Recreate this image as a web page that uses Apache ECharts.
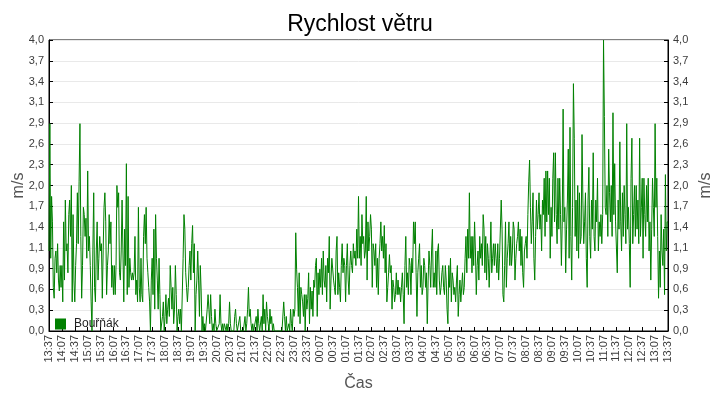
<!DOCTYPE html>
<html>
<head>
<meta charset="utf-8">
<script src="https://cdn.jsdelivr.net/npm/echarts@6/dist/echarts.min.js"></script>
<style>html,body{margin:0;padding:0;background:#fff}#c{width:720px;height:400px}</style>
</head>
<body>
<div id="c"></div>
<script>
// Time step between samples, minutes (start 13:37, end 13:37 next day)
var stepMinutes = 2;
var tickLabels = ["13:37","14:07","14:37","15:07","15:37","16:07","16:37","17:07","17:37","18:07","18:37","19:07","19:37","20:07","20:37","21:07","21:37","22:07","22:37","23:07","23:37","00:07","00:37","01:07","01:37","02:07","02:37","03:07","03:37","04:07","04:37","05:07","05:37","06:07","06:37","07:07","07:37","08:07","08:37","09:07","09:37","10:07","10:37","11:07","11:37","12:07","12:37","13:07","13:37"];
var seriesName = "Bouřňák";
var windSpeed = [
1.1,2.85,1.0,1.85,1.5,0.6,0.45,1.0,1.1,0.8,1.2,0.7,0.55,0.9,0.6,
0.9,0.4,1.5,0.7,1.8,1.1,1.2,0.8,1.6,1.8,1.3,2.0,0.4,1.6,0.7,
0.4,0.9,1.2,1.9,1.2,2.05,2.85,1.3,0.45,0.9,1.7,1.6,1.3,1.55,1.0,
2.2,1.1,1.3,0.9,0.4,0.0,1.1,1.9,0.6,0.4,1.1,1.5,0.7,1.0,1.3,
1.1,1.2,0.45,1.1,1.7,1.9,1.5,0.5,0.9,1.1,1.6,1.2,1.5,0.6,0.9,
0.5,0.9,0.5,0.9,2.0,1.7,1.9,0.8,0.7,1.1,1.8,1.1,0.4,1.4,0.9,
2.3,0.5,1.85,0.6,1.0,0.8,0.7,0.8,0.7,0.8,1.3,0.5,0.7,0.4,1.7,
0.6,0.4,1.0,0.5,0.4,1.3,1.6,1.2,1.7,1.0,0.8,0.6,0.4,0.0,0.7,
1.0,0.5,1.4,0.3,1.6,1.0,0.7,0.3,1.0,0.5,0.0,0.0,0.2,0.4,0.0,
0.2,0.5,0.1,0.3,0.45,0.2,0.9,0.6,0.3,0.6,0.1,0.3,0.9,0.5,0.0,
0.2,0.3,0.1,0.3,0.0,0.0,1.0,1.6,1.4,0.8,0.6,0.4,0.6,0.9,1.1,
0.7,1.2,1.45,0.8,1.2,0.0,0.5,0.7,1.1,0.7,0.2,0.9,0.55,0.0,0.2,
0.0,0.1,0.0,0.0,0.3,0.5,0.3,0.1,0.5,0.2,0.0,0.1,0.0,0.3,0.1,
0.0,0.0,0.0,0.1,0.5,0.1,0.0,0.1,0.0,0.1,0.1,0.0,0.1,0.0,0.1,
0.4,0.1,0.0,0.0,0.0,0.0,0.2,0.3,0.1,0.0,0.0,0.0,0.2,0.0,0.0,
0.0,0.0,0.0,0.2,0.0,0.1,0.3,0.6,0.2,0.3,0.1,0.0,0.1,0.0,0.0,
0.0,0.2,0.0,0.3,0.1,0.0,0.0,0.2,0.0,0.5,0.1,0.3,0.0,0.4,0.2,
0.1,0.0,0.3,0.1,0.2,0.0,0.1,0.0,0.0,0.0,0.0,0.0,0.0,0.0,0.0,
0.0,0.0,0.0,0.4,0.2,0.0,0.2,0.0,0.0,0.1,0.0,0.3,0.1,0.0,0.3,
0.2,0.3,1.35,0.85,0.6,0.2,0.8,0.1,0.6,0.5,0.4,0.2,0.5,0.0,0.5,
0.3,0.45,0.8,0.1,0.6,0.3,0.55,0.2,0.7,0.6,0.9,1.0,0.2,0.8,0.5,
0.85,0.6,1.0,0.5,1.1,0.7,0.6,0.9,0.4,1.0,0.8,1.3,0.3,0.7,1.0,
1.0,0.7,0.6,0.5,1.1,1.3,0.5,0.8,0.6,0.4,0.9,1.2,0.8,1.0,0.9,
0.4,0.9,1.2,0.7,0.5,0.9,1.1,0.9,0.8,1.2,1.0,1.1,0.9,1.4,1.0,
1.85,1.0,1.3,0.9,1.6,1.2,1.3,1.0,1.1,1.85,0.7,1.5,1.1,1.3,1.6,
1.4,0.6,1.2,1.1,0.9,1.2,0.6,1.0,0.5,1.0,1.2,1.5,1.1,1.3,1.0,
1.45,0.8,1.2,0.4,0.6,0.8,1.05,0.8,0.9,0.3,0.7,0.6,0.4,0.5,0.8,
0.5,0.7,0.5,0.6,0.4,0.6,0.8,0.5,0.1,0.9,1.3,0.6,0.8,0.5,1.0,
0.9,0.5,1.0,0.8,1.5,1.2,1.5,0.8,0.2,0.8,1.0,1.2,0.6,0.9,0.5,
0.6,1.0,0.9,0.6,0.8,0.1,0.7,1.1,0.9,0.6,1.1,1.4,0.6,0.8,0.6,
1.1,0.5,1.1,1.2,0.7,0.5,0.6,0.8,0.9,0.6,0.5,0.9,0.7,0.3,0.1,
0.9,0.6,1.0,0.4,0.8,0.7,0.5,0.6,0.4,0.7,0.9,0.2,0.5,0.7,0.4,
0.4,0.8,0.5,0.6,1.0,1.3,0.8,1.4,1.0,1.9,1.0,1.3,0.8,1.3,0.9,
1.5,1.1,0.5,0.9,1.1,0.7,1.3,1.0,1.2,0.9,1.6,1.4,0.8,1.3,0.7,
1.2,1.0,0.6,1.0,1.5,0.8,1.0,1.2,0.9,1.2,1.0,0.8,1.2,0.7,1.0,
1.0,1.8,1.4,0.5,0.4,0.9,1.5,0.6,1.0,1.2,1.5,0.9,1.3,0.9,1.1,
1.5,1.4,0.7,1.0,1.2,1.3,1.5,1.1,1.4,0.9,1.3,0.8,0.6,1.1,1.2,
1.3,1.0,1.6,2.05,2.35,1.7,1.2,1.5,1.9,1.0,0.7,1.3,1.8,1.4,1.6,
1.9,1.4,1.6,1.1,1.8,1.6,2.1,1.3,2.2,1.5,2.2,1.6,2.1,1.0,1.7,
1.3,2.1,2.45,1.5,2.45,1.6,1.2,2.1,1.4,2.1,1.6,0.9,1.5,3.05,1.5,
1.7,0.8,1.4,1.8,2.5,1.0,2.8,1.3,0.7,1.7,3.4,2.65,1.3,1.8,1.1,
2.0,1.0,1.9,1.2,1.3,2.7,1.8,1.2,1.5,1.9,1.0,0.6,1.8,2.25,1.3,
1.0,1.8,1.4,2.45,1.3,1.1,1.8,1.5,2.1,1.1,1.5,1.3,1.6,1.2,1.6,
4.0,2.95,1.7,1.6,2.0,1.3,2.5,1.9,1.5,2.0,1.3,3.0,1.6,2.3,1.5,
1.5,0.8,1.8,1.4,2.6,1.5,1.1,1.9,1.3,2.0,1.6,1.2,2.85,1.4,1.7,
1.2,0.6,2.1,2.65,1.2,1.6,2.0,1.3,2.0,1.4,1.8,1.2,2.65,1.3,1.7,
2.1,1.0,2.1,1.6,1.3,2.0,1.5,2.1,1.1,1.5,0.7,1.4,2.1,1.7,1.3,
2.85,1.7,2.1,1.3,0.45,1.1,0.6,1.6,1.1,0.9,1.4,0.5,2.15,1.1,1.5,
1.5
];

var chart = echarts.init(document.getElementById('c'), null, {renderer: 'canvas'});
var FONT = '"Liberation Sans", Arial, sans-serif';
var yInterval = 4 / 14;
function fmtY(v) { return (Math.round(v * 10) / 10).toFixed(1).replace('.', ','); }
function yAxisCfg(pos, gap) {
  return {
    type: 'value', position: pos, min: 0, max: 4, interval: yInterval,
    name: 'm/s', nameLocation: 'middle', nameGap: gap, nameRotate: 90, nameMoveOverlap: false,
    nameTextStyle: {fontSize: 16, color: '#555', fontFamily: FONT},
    axisLine: {show: true, lineStyle: {color: '#000', width: 1}},
    axisTick: {show: true, inside: true, length: 4, lineStyle: {color: '#000'}},
    axisLabel: {fontSize: 11, color: '#3c3c3c', fontFamily: FONT, margin: 5, formatter: fmtY},
    splitLine: {show: pos === 'left', lineStyle: {color: '#e9e9e9', width: 1}}
  };
}
var option = {
  animation: false,
  backgroundColor: '#fff',
  title: {
    text: 'Rychlost větru', left: 'center', top: 8,
    textStyle: {fontSize: 23, fontWeight: 'normal', color: '#000', fontFamily: FONT}
  },
  grid: {left: 49, right: 52, top: 40, bottom: 69, containLabel: false, outerBoundsMode: 'none',
    show: true, borderColor: '#000', borderWidth: 1, backgroundColor: 'transparent'},
  legend: {
    data: [seriesName], left: 50, top: 313, icon: 'rect', itemWidth: 11, itemHeight: 11,
    textStyle: {fontSize: 12, color: '#222', fontFamily: FONT, padding: [0, 0, 0, 3]}
  },
  xAxis: {
    type: 'value', min: 0, max: 1440, interval: 30,
    name: 'Čas', nameLocation: 'middle', nameGap: 45,
    nameTextStyle: {fontSize: 16, color: '#555', fontFamily: FONT},
    axisLine: {show: true, lineStyle: {color: '#000', width: 1}},
    axisTick: {show: true, inside: true, length: 4, lineStyle: {color: '#000'}},
    axisLabel: {rotate: 90, fontSize: 11, color: '#3c3c3c', fontFamily: FONT, margin: 4,
      formatter: function (v) { return tickLabels[Math.round(v / 30)] || ''; }},
    splitLine: {show: false}
  },
  yAxis: [yAxisCfg('left', 22), yAxisCfg('right', 30)],
  series: [{
    name: seriesName, type: 'line', yAxisIndex: 0,
    data: windSpeed.map(function (v, i) { return [i * stepMinutes, v]; }),
    showSymbol: false, symbol: 'none', sampling: null,
    lineStyle: {color: '#008000', width: 1}, itemStyle: {color: '#008000'}
  }]
};
chart.setOption(option);
</script>
</body>
</html>
